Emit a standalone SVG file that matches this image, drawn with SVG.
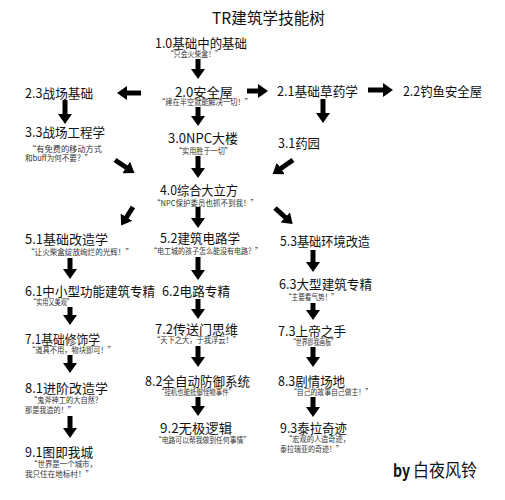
<svg xmlns="http://www.w3.org/2000/svg" width="505" height="500" viewBox="0 0 505 500">
<style>
text{font-family:"Noto Sans CJK SC","Noto Sans",sans-serif;dominant-baseline:central}
.t{font-size:16px;fill:#111}
.l{font-size:13px;fill:#111}
.s{font-size:8px;fill:#333}
.a{stroke:#000;stroke-width:5;fill:none;marker-end:url(#ah)}
</style>
<defs>
<marker id="ah" markerUnits="userSpaceOnUse" markerWidth="10" markerHeight="14" viewBox="0 0 10 14" refX="1" refY="7" orient="auto">
<path d="M0,0 L10,7 L0,14 Z" fill="#000"/>
</marker>
</defs>
<rect width="505" height="500" fill="#fff"/>
<g id="title"><text class="t" x="212" y="17" textLength="113" lengthAdjust="spacingAndGlyphs">TR建筑学技能树</text></g>
<g id="n10"><text class="l" x="155" y="42" textLength="92" lengthAdjust="spacingAndGlyphs">1.0基础中的基础</text><text class="s" x="167" y="53" textLength="55" lengthAdjust="spacingAndGlyphs">“只会火柴盒！”</text></g>
<g id="n20"><text class="l" x="175" y="91" textLength="58" lengthAdjust="spacingAndGlyphs">2.0安全屋</text><text class="s" x="158" y="101" textLength="94" lengthAdjust="spacingAndGlyphs">“建在半空就能解决一切！”</text></g>
<g id="n21"><text class="l" x="277" y="90" textLength="81" lengthAdjust="spacingAndGlyphs">2.1基础草药学</text></g>
<g id="n22"><text class="l" x="403" y="90" textLength="79" lengthAdjust="spacingAndGlyphs">2.2钓鱼安全屋</text></g>
<g id="n23"><text class="l" x="25" y="92" textLength="68" lengthAdjust="spacingAndGlyphs">2.3战场基础</text></g>
<g id="n33"><text class="l" x="25" y="131" textLength="80" lengthAdjust="spacingAndGlyphs">3.3战场工程学</text><text class="s" x="28" y="148" textLength="74" lengthAdjust="spacingAndGlyphs">“有免费的移动方式</text><text class="s" x="25" y="157" textLength="67" lengthAdjust="spacingAndGlyphs">和buff为何不要？”</text></g>
<g id="n30"><text class="l" x="168" y="137" textLength="70" lengthAdjust="spacingAndGlyphs">3.0NPC大楼</text><text class="s" x="175" y="150" textLength="57" lengthAdjust="spacingAndGlyphs">“实用胜于一切”</text></g>
<g id="n31"><text class="l" x="278" y="142" textLength="42" lengthAdjust="spacingAndGlyphs">3.1药园</text></g>
<g id="n40"><text class="l" x="160" y="189" textLength="78" lengthAdjust="spacingAndGlyphs">4.0综合大立方</text><text class="s" x="153" y="202" textLength="105" lengthAdjust="spacingAndGlyphs">“NPC保护委员也抓不到我！”</text></g>
<g id="n51"><text class="l" x="25" y="238" textLength="83" lengthAdjust="spacingAndGlyphs">5.1基础改造学</text><text class="s" x="27" y="251" textLength="106" lengthAdjust="spacingAndGlyphs">“让火柴盒绽放绚烂的光辉！”</text></g>
<g id="n52"><text class="l" x="160" y="237" textLength="80" lengthAdjust="spacingAndGlyphs">5.2建筑电路学</text><text class="s" x="150" y="250" textLength="112" lengthAdjust="spacingAndGlyphs">“电工城的孩子怎么能没有电路？”</text></g>
<g id="n53"><text class="l" x="280" y="240" textLength="90" lengthAdjust="spacingAndGlyphs">5.3基础环境改造</text></g>
<g id="n61"><text class="l" x="25" y="290" textLength="130" lengthAdjust="spacingAndGlyphs">6.1中小型功能建筑专精</text><text class="s" x="30" y="301" textLength="43" lengthAdjust="spacingAndGlyphs">“实用又美观”</text></g>
<g id="n62"><text class="l" x="162" y="290" textLength="68" lengthAdjust="spacingAndGlyphs">6.2电路专精</text></g>
<g id="n63"><text class="l" x="279" y="283" textLength="93" lengthAdjust="spacingAndGlyphs">6.3大型建筑专精</text><text class="s" x="285" y="296" textLength="53" lengthAdjust="spacingAndGlyphs">“主要看气势！”</text></g>
<g id="n71"><text class="l" x="25" y="338" textLength="75" lengthAdjust="spacingAndGlyphs">7.1基础修饰学</text><text class="s" x="28" y="349" textLength="87" lengthAdjust="spacingAndGlyphs">“道具不用，物块即可！”</text></g>
<g id="n72"><text class="l" x="155" y="328" textLength="83" lengthAdjust="spacingAndGlyphs">7.2传送门思维</text><text class="s" x="153" y="339" textLength="87" lengthAdjust="spacingAndGlyphs">“天下之大，于我浮云！”</text></g>
<g id="n73"><text class="l" x="278" y="330" textLength="68" lengthAdjust="spacingAndGlyphs">7.3上帝之手</text><text class="s" x="290" y="341" textLength="47" lengthAdjust="spacingAndGlyphs">“世界即我画板”</text></g>
<g id="n81"><text class="l" x="25" y="387" textLength="83" lengthAdjust="spacingAndGlyphs">8.1进阶改造学</text><text class="s" x="30" y="399" textLength="72" lengthAdjust="spacingAndGlyphs">“鬼斧神工的大自然？</text><text class="s" x="25" y="409" textLength="50" lengthAdjust="spacingAndGlyphs">那是我造的！”</text></g>
<g id="n82"><text class="l" x="145" y="380" textLength="105" lengthAdjust="spacingAndGlyphs">8.2全自动防御系统</text><text class="s" x="158" y="391" textLength="77" lengthAdjust="spacingAndGlyphs">“挂机也能抵御怪物事件”</text></g>
<g id="n83"><text class="l" x="278" y="380" textLength="67" lengthAdjust="spacingAndGlyphs">8.3剧情场地</text><text class="s" x="290" y="391" textLength="82" lengthAdjust="spacingAndGlyphs">“自己的故事自己做主！”</text></g>
<g id="n91"><text class="l" x="25" y="451" textLength="68" lengthAdjust="spacingAndGlyphs">9.1图即我城</text><text class="s" x="30" y="463" textLength="67" lengthAdjust="spacingAndGlyphs">“世界是一个城市，</text><text class="s" x="25" y="473" textLength="68" lengthAdjust="spacingAndGlyphs">我只住在地标村！”</text></g>
<g id="n92"><text class="l" x="160" y="427" textLength="72" lengthAdjust="spacingAndGlyphs">9.2无极逻辑</text><text class="s" x="155" y="439" textLength="95" lengthAdjust="spacingAndGlyphs">“电路可以帮我做到任何事情”</text></g>
<g id="n93"><text class="l" x="280" y="427" textLength="67" lengthAdjust="spacingAndGlyphs">9.3泰拉奇迹</text><text class="s" x="285" y="438" textLength="65" lengthAdjust="spacingAndGlyphs">“宏观的人造奇迹，</text><text class="s" x="280" y="448" textLength="63" lengthAdjust="spacingAndGlyphs">泰拉瑞亚的奇迹！”</text></g>
<g id="author"><text x="393" y="469" textLength="17" lengthAdjust="spacingAndGlyphs" style="font-size:17px;font-weight:bold;fill:#111">by</text><text x="413" y="469" textLength="64" lengthAdjust="spacingAndGlyphs" style="font-size:18px;fill:#111">白夜风铃</text></g>
<g id="connectors">
<line class="a" x1="198" y1="59" x2="198" y2="70"/>
<line class="a" x1="198" y1="107" x2="198" y2="117"/>
<line class="a" x1="198" y1="156" x2="198" y2="169"/>
<line class="a" x1="247" y1="91" x2="259" y2="91"/>
<line class="a" x1="368" y1="90" x2="384" y2="90"/>
<line class="a" x1="141" y1="93" x2="126" y2="93"/>
<line class="a" x1="65" y1="100" x2="65" y2="115"/>
<line class="a" x1="323" y1="99" x2="323" y2="114"/>
<line class="a" x1="115" y1="160" x2="127" y2="168"/>
<line class="a" x1="293" y1="160" x2="280" y2="169"/>
<line class="a" x1="133" y1="207" x2="126" y2="218"/>
<line class="a" x1="198" y1="207" x2="198" y2="219"/>
<line class="a" x1="275" y1="208" x2="286" y2="218"/>
<line class="a" x1="70" y1="258" x2="70" y2="270"/>
<line class="a" x1="198" y1="257" x2="198" y2="271"/>
<line class="a" x1="313" y1="250" x2="313" y2="263"/>
<line class="a" x1="70" y1="307" x2="70" y2="316"/>
<line class="a" x1="198" y1="299" x2="198" y2="310"/>
<line class="a" x1="313" y1="303" x2="313" y2="311"/>
<line class="a" x1="70" y1="355" x2="70" y2="364"/>
<line class="a" x1="198" y1="346" x2="198" y2="358"/>
<line class="a" x1="313" y1="347" x2="313" y2="358"/>
<line class="a" x1="70" y1="416" x2="70" y2="429"/>
<line class="a" x1="198" y1="397" x2="198" y2="407"/>
<line class="a" x1="313" y1="397" x2="313" y2="408"/>
</g>
</svg>
